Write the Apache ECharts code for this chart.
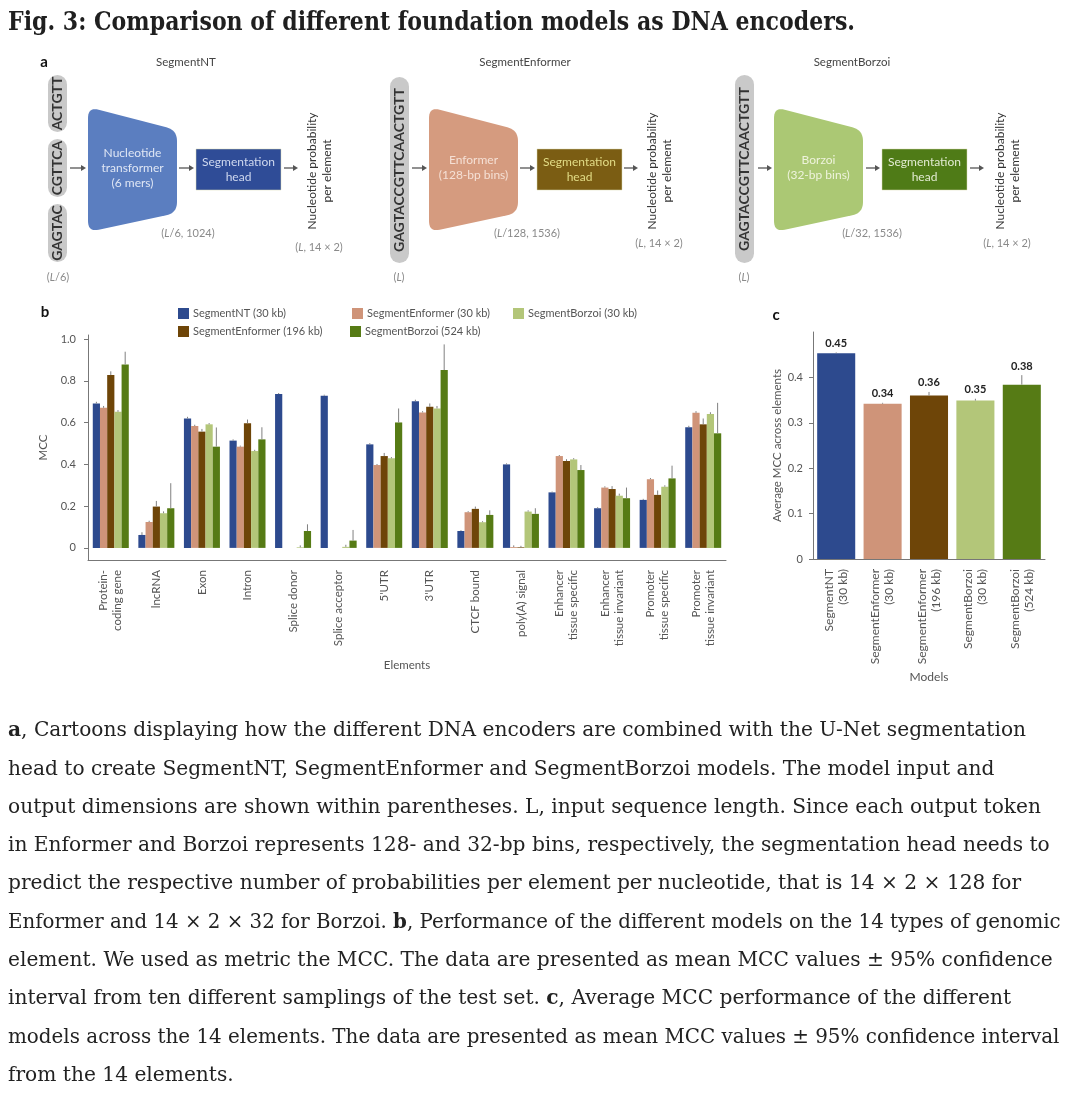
<!DOCTYPE html>
<html><head><meta charset="utf-8">
<script src="https://cdn.jsdelivr.net/npm/echarts@6/dist/echarts.min.js"></script>
<style>html,body{margin:0;padding:0;background:#fff;}#main{width:1080px;height:1119px;}</style>
</head><body><div id="main"></div>
<script>
// ---------------- DATA ----------------
const elements = ['Protein-\ncoding gene','lncRNA','Exon','Intron','Splice donor','Splice acceptor',"5'UTR","3'UTR",'CTCF bound','poly(A) signal','Enhancer\ntissue specific','Enhancer\ntissue invariant','Promoter\ntissue specific','Promoter\ntissue invariant'];
const modelNames = ['SegmentNT (30 kb)','SegmentEnformer (30 kb)','SegmentEnformer (196 kb)','SegmentBorzoi (30 kb)','SegmentBorzoi (524 kb)'];
const modelAxisLabels = ['SegmentNT\n(30 kb)','SegmentEnformer\n(30 kb)','SegmentEnformer\n(196 kb)','SegmentBorzoi\n(30 kb)','SegmentBorzoi\n(524 kb)'];

const mccNT        = [0.692,0.062,0.620,0.514,0.737,0.729,0.496,0.703,0.081,0.400,0.266,0.190,0.230,0.578];
const mccNTUp      = [0.700,0.075,0.628,0.520,0.742,0.734,0.502,0.710,0.085,0.405,0.270,0.195,0.235,0.585];
const mccEnf30     = [0.671,0.124,0.584,0.485,0.000,0.000,0.397,0.649,0.171,0.004,0.440,0.289,0.329,0.647];
const mccEnf30Up   = [0.680,0.130,0.590,0.490,0.000,0.000,0.402,0.655,0.176,0.012,0.445,0.295,0.335,0.655];
const mccEnf196    = [0.828,0.198,0.557,0.597,0.000,0.000,0.440,0.676,0.187,0.003,0.416,0.282,0.254,0.592];
const mccEnf196Up  = [0.846,0.225,0.570,0.615,0.000,0.000,0.455,0.692,0.198,0.010,0.425,0.296,0.275,0.620];
const mccBor30     = [0.652,0.166,0.592,0.464,0.003,0.005,0.429,0.668,0.123,0.174,0.424,0.250,0.293,0.641];
const mccBor30Up   = [0.660,0.175,0.598,0.470,0.012,0.015,0.435,0.680,0.128,0.180,0.430,0.260,0.300,0.650];
const mccBor524    = [0.879,0.190,0.485,0.520,0.081,0.035,0.601,0.852,0.158,0.163,0.373,0.238,0.333,0.549];
const mccBor524Up  = [0.940,0.310,0.577,0.578,0.113,0.086,0.668,0.975,0.180,0.190,0.397,0.289,0.394,0.695];

const avgMcc       = [0.453,0.342,0.360,0.349,0.384];
const avgMccUp     = [0.455,0.344,0.368,0.353,0.405];

const mccTicks = [0,0.2,0.4,0.6,0.8,1.0];
const avgTicks = [0,0.1,0.2,0.3,0.4];

const titleText = 'Fig. 3: Comparison of different foundation models as DNA encoders.';
const captionLines = [
 '{b|a}, Cartoons displaying how the different DNA encoders are combined with the U-Net segmentation',
 'head to create SegmentNT, SegmentEnformer and SegmentBorzoi models. The model input and',
 'output dimensions are shown within parentheses. L, input sequence length. Since each output token',
 'in Enformer and Borzoi represents 128- and 32-bp bins, respectively, the segmentation head needs to',
 'predict the respective number of probabilities per element per nucleotide, that is 14 × 2 × 128 for',
 'Enformer and 14 × 2 × 32 for Borzoi. {b|b}, Performance of the different models on the 14 types of genomic',
 'element. We used as metric the MCC. The data are presented as mean MCC values ± 95% confidence',
 'interval from ten different samplings of the test set. {b|c}, Average MCC performance of the different',
 'models across the 14 elements. The data are presented as mean MCC values ± 95% confidence interval',
 'from the 14 elements.'
];

// ---------------- STYLE ----------------
const colors = ['#2d4a8e','#cf9479','#6e4508','#b3c679','#567b15'];
const FONT = 'Lato';
const SERIF = 'DejaVu Serif';
const axisCol = '#777';
const labCol = '#555';

const seriesVals = [mccNT,mccEnf30,mccEnf196,mccBor30,mccBor524];
const seriesUps  = [mccNTUp,mccEnf30Up,mccEnf196Up,mccBor30Up,mccBor524Up];
const CATGAP = 0.21;

// ---------------- helpers ----------------
const mctx = document.createElement('canvas').getContext('2d');
function measure(text, font){ mctx.font = font; return mctx.measureText(text).width; }

function roundedPoly(pts, r){
  const out=[]; const n=pts.length;
  for(let i=0;i<n;i++){
    const p0=pts[(i-1+n)%n], p1=pts[i], p2=pts[(i+1)%n];
    const v1=[p0[0]-p1[0],p0[1]-p1[1]], v2=[p2[0]-p1[0],p2[1]-p1[1]];
    const l1=Math.hypot(v1[0],v1[1]), l2=Math.hypot(v2[0],v2[1]);
    const a=[p1[0]+v1[0]/l1*r,p1[1]+v1[1]/l1*r], b=[p1[0]+v2[0]/l2*r,p1[1]+v2[1]/l2*r];
    for(let t=0;t<=10;t++){const s=t/10;
      out.push([(1-s)*(1-s)*a[0]+2*(1-s)*s*p1[0]+s*s*b[0],(1-s)*(1-s)*a[1]+2*(1-s)*s*p1[1]+s*s*b[1]]);}
  }
  return out;
}
function arrow(x1,x2,y){
  return [
    {type:'line',shape:{x1:x1,y1:y,x2:x2-4,y2:y},style:{stroke:'#555',lineWidth:1.3}},
    {type:'polygon',shape:{points:[[x2,y],[x2-5,y-3],[x2-5,y+3]]},style:{fill:'#555'}}
  ];
}
function txt(x,y,text,opt){
  opt=opt||{};
  return {type:'text',x:x,y:y,rotation:opt.rotation||0,scaleX:opt.scaleX||1,
    style:Object.assign({text:text,align:'center',verticalAlign:'middle',fontFamily:FONT,fontSize:11,fill:'#444'},opt.style||{})};
}
function pill(x,y,w,h,text){
  return [
    {type:'rect',shape:{x:x,y:y,width:w,height:h,r:w/2},style:{fill:'#c9c9c9'}},
    txt(x+w/2,y+h/2,text,{rotation:Math.PI/2,style:{fontSize:14,fontWeight:'bold',fill:'#333'}})
  ];
}
const dimRich = {i:{fontStyle:'italic',fontFamily:FONT,fontSize:11,fill:'#8a8a8a'}};
function dim(x,y,text){ return txt(x,y,text,{style:{fill:'#8a8a8a',fontSize:11,rich:dimRich}}); }

function panelA(cfg){
  const g=[];
  g.push(txt(cfg.titleX,62,cfg.title,{style:{fontSize:11.5,fill:'#444'}}));
  cfg.pills.forEach(p=>g.push(...pill(p[0],p[1],p[2],p[3],p[4])));
  g.push(dim(cfg.inLabel[0],277,cfg.inLabel[1]));
  g.push(...arrow(cfg.a1[0],cfg.a1[1],168));
  const t=cfg.trap;
  g.push({type:'polygon',shape:{points:roundedPoly([[t[0],107],[t[1],130],[t[1],213],[t[0],232]],11)},style:{fill:cfg.trapColor}});
  g.push(txt((t[0]+t[1])/2,168,cfg.trapText,{style:{fontSize:12,lineHeight:15,fill:cfg.trapTextColor}}));
  g.push(dim(cfg.midLabel[0],233,cfg.midLabel[1]));
  g.push(...arrow(cfg.a2[0],cfg.a2[1],168));
  const h=cfg.head;
  g.push({type:'rect',shape:{x:h[0],y:149,width:h[1]-h[0],height:41},style:{fill:cfg.headColor,stroke:'#d9d9b0',lineWidth:0.5}});
  g.push(txt((h[0]+h[1])/2,169.5,'Segmentation\nhead',{style:{fontSize:12,lineHeight:15,fill:cfg.headTextColor}}));
  g.push(...arrow(cfg.a3[0],cfg.a3[1],168));
  g.push(txt(cfg.outX,171,'Nucleotide probability\nper element',{rotation:Math.PI/2,style:{fontSize:12,lineHeight:15,fill:'#333'}}));
  g.push(dim(cfg.outX-1,cfg.outLabelY,'({i|L}, 14 × 2)'));
  return g;
}

// ---------------- graphics ----------------
const graphics = [];
const titleFont = 'bold 26px "'+SERIF+'"';
const titleScale = 847/measure(titleText,titleFont);
graphics.push({type:'text',x:8,y:23,scaleX:titleScale,style:{text:titleText,align:'left',verticalAlign:'middle',fontFamily:SERIF,fontWeight:'bold',fontSize:26,fill:'#1f1f1f'}});

graphics.push(txt(44,62,'a',{style:{fontSize:15,fontWeight:'bold',fill:'#111'}}));
graphics.push(txt(45,312,'b',{style:{fontSize:15,fontWeight:'bold',fill:'#111'}}));
graphics.push(txt(776,315,'c',{style:{fontSize:15,fontWeight:'bold',fill:'#111'}}));

graphics.push(...panelA({title:'SegmentNT',titleX:186,
  pills:[[48,75,19,57,'ACTGTT'],[48,139,19,58,'CGTTCA'],[48,204,19,58,'GAGTAC']],
  inLabel:[58,'({i|L}/6)'], a1:[70,86], trap:[88,177], trapColor:'#5b7ec0',
  trapText:'Nucleotide\ntransformer\n(6 mers)', trapTextColor:'#dfe6f4',
  midLabel:[188,'({i|L}/6, 1024)'], a2:[179,194], head:[196,281], headColor:'#2f4c97', headTextColor:'#cfd8ef',
  a3:[284,298], outX:320, outLabelY:247}));
graphics.push(...panelA({title:'SegmentEnformer',titleX:525,
  pills:[[390,77,19,186,'GAGTACCGTTCAACTGTT']],
  inLabel:[399,'({i|L})'], a1:[412,427], trap:[429,518], trapColor:'#d59b7f',
  trapText:'Enformer\n(128-bp bins)', trapTextColor:'#f5e0d5',
  midLabel:[527,'({i|L}/128, 1536)'], a2:[520,535], head:[537,622], headColor:'#7b5d13', headTextColor:'#e2dc86',
  a3:[624,638], outX:660, outLabelY:243}));
graphics.push(...panelA({title:'SegmentBorzoi',titleX:852,
  pills:[[735,75,19,188,'GAGTACCGTTCAACTGTT']],
  inLabel:[744,'({i|L})'], a1:[758,772], trap:[774,863], trapColor:'#abc874',
  trapText:'Borzoi\n(32-bp bins)', trapTextColor:'#eef3dc',
  midLabel:[872,'({i|L}/32, 1536)'], a2:[866,880], head:[882,967], headColor:'#4f7b17', headTextColor:'#e2ebd2',
  a3:[970,984], outX:1008, outLabelY:243}));

// caption
const capSize = 20;
const capFont = capSize+'px "'+SERIF+'"';
const plain = s => s.replace(/\{b\|(.)\}/g,'$1');
const capScale = 1017/measure(plain(captionLines[0]), capFont);
captionLines.forEach((line,k)=>{
  const w = measure(plain(line), capFont) * 1.01;
  const sc = Math.min(capScale, 1062/w);
  graphics.push({type:'text',x:8,y:731+k*38.3,scaleX:sc,
    style:{text:line,align:'left',verticalAlign:'middle',fontFamily:SERIF,fontSize:capSize,fill:'#222',
      rich:{b:{fontFamily:SERIF,fontSize:capSize,fontWeight:'bold',fill:'#222'}}}});
});

// ---------------- series ----------------
const series = [];
seriesVals.forEach((vals,k)=>{
  series.push({name:modelNames[k],type:'bar',xAxisIndex:0,yAxisIndex:0,data:vals,
    itemStyle:{color:colors[k]},barGap:'0%',barCategoryGap:(CATGAP*100)+'%',z:2,silent:true});
});
seriesVals.forEach((vals,k)=>{
  series.push({type:'custom',xAxisIndex:0,yAxisIndex:0,z:5,silent:true,
    data:vals.map((v,i)=>[i,v,seriesUps[k][i]]),encode:{x:0,y:[1,2]},
    renderItem:function(params,api){
      const i=api.value(0),v=api.value(1),u=api.value(2);
      if(u<=v) return null;
      const band=api.size([1,0])[0];
      const bw=band*(1-CATGAP)/5;
      const off=(k-2)*bw;
      const p1=api.coord([i,v]),p2=api.coord([i,u]);
      return {type:'line',shape:{x1:p1[0]+off,y1:p1[1],x2:p2[0]+off,y2:p2[1]},style:{stroke:'#808080',lineWidth:1}};
    }});
});
series.push({type:'bar',xAxisIndex:1,yAxisIndex:1,barCategoryGap:'18%',silent:true,
  data:avgMcc.map((v,i)=>({value:v,itemStyle:{color:colors[i]}}))});
series.push({type:'custom',xAxisIndex:1,yAxisIndex:1,z:5,silent:true,
  data:avgMcc.map((v,i)=>[i,v,avgMccUp[i]]),encode:{x:0,y:[1,2]},
  renderItem:function(params,api){
    const i=api.value(0),v=api.value(1),u=api.value(2);
    const pv=api.coord([i,v]),pu=api.coord([i,u]);
    return {type:'group',children:[
      {type:'line',shape:{x1:pv[0],y1:pv[1],x2:pu[0],y2:pu[1]},style:{stroke:'#808080',lineWidth:1}},
      {type:'text',x:pu[0],y:pu[1]-9,style:{text:v.toFixed(2),align:'center',verticalAlign:'middle',fontSize:11,fontWeight:'bold',fontFamily:FONT,fill:'#222'}}
    ]};
  }});

// legend placement: NT, Enf30, Enf196, Bor30, Bor524
const legendPos=[[178,308],[352,308],[178,326],[513,308],[350,326]];

const option = {
  animation:false,
  backgroundColor:'#fff',
  textStyle:{fontFamily:FONT},
  grid:[
    {left:88,top:335,width:638,height:225},
    {left:813,top:332,width:232,height:227}
  ],
  legend: legendPos.map((p,k)=>({data:[modelNames[k]],left:p[0],top:p[1],icon:'rect',itemWidth:11,itemHeight:11,
    itemGap:0,padding:0,selectedMode:false,textStyle:{fontSize:11,color:labCol,fontFamily:FONT,padding:[0,0,0,-1]}})),
  xAxis:[
    {gridIndex:0,type:'category',data:elements,
      axisLine:{onZero:false,lineStyle:{color:axisCol}},
      axisTick:{alignWithLabel:true,length:5,lineStyle:{color:axisCol}},
      axisLabel:{rotate:90,interval:0,margin:10,fontSize:11.5,color:labCol,fontFamily:FONT,lineHeight:14},
      name:'Elements',nameLocation:'middle',nameGap:99,nameTextStyle:{fontSize:11.5,color:labCol,fontFamily:FONT}},
    {gridIndex:1,type:'category',data:modelAxisLabels,
      axisLine:{onZero:false,lineStyle:{color:axisCol}},
      axisTick:{alignWithLabel:true,length:5,lineStyle:{color:axisCol}},
      axisLabel:{rotate:90,interval:0,margin:10,fontSize:12,color:labCol,fontFamily:FONT,lineHeight:14},
      name:'Models',nameLocation:'middle',nameGap:112,nameTextStyle:{fontSize:12,color:labCol,fontFamily:FONT}}
  ],
  yAxis:[
    {gridIndex:0,type:'value',min:-0.058,max:1.02,
      axisLine:{show:true,lineStyle:{color:axisCol}},
      axisTick:{show:true,length:4,customValues:mccTicks,lineStyle:{color:axisCol}},
      axisLabel:{customValues:mccTicks,margin:12,fontSize:11,color:labCol,fontFamily:FONT,
        formatter:v=>v===0?'0':v.toFixed(1)},
      splitLine:{show:false},
      name:'MCC',nameLocation:'middle',nameGap:37,nameTextStyle:{fontSize:11.5,color:labCol,fontFamily:FONT}},
    {gridIndex:1,type:'value',min:0,max:0.5,
      axisLine:{show:true,lineStyle:{color:axisCol}},
      axisTick:{show:true,length:4,customValues:avgTicks,lineStyle:{color:axisCol}},
      axisLabel:{customValues:avgTicks,margin:10,fontSize:11,color:labCol,fontFamily:FONT,
        formatter:v=>v===0?'0':v.toFixed(1)},
      splitLine:{show:false},
      name:'Average MCC across elements',nameLocation:'middle',nameGap:30,nameTextStyle:{fontSize:11.5,color:labCol,fontFamily:FONT}}
  ],
  graphic:{elements:graphics},
  series:series
};
const chart = echarts.init(document.getElementById('main'),null,{renderer:'canvas',width:1080,height:1119});
chart.setOption(option);
</script></body></html>
